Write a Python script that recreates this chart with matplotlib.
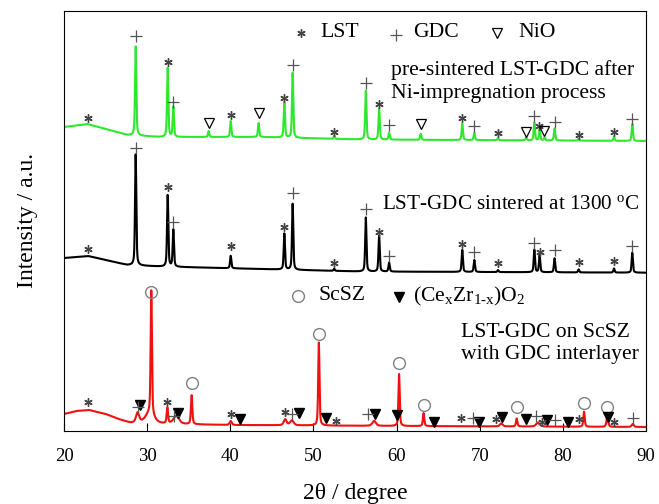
import numpy as np
import matplotlib.pyplot as plt

plt.rcParams['font.family'] = ['Liberation Serif', 'DejaVu Serif']
plt.rcParams['mathtext.fontset'] = 'custom'
plt.rcParams['mathtext.rm'] = 'Liberation Serif'
plt.rcParams['mathtext.it'] = 'Liberation Serif:italic'

# ---- pattern data (2theta in degrees, intensity in a.u. incl. stacking offset) ----
# background knots
bg_green_x = [20.0, 22.8, 25.5, 27.6, 31.5, 43.6, 55.6, 90.0]
bg_green_y = [304, 307, 301, 296, 294, 294, 291.5, 290]
bg_black_x = [20.0, 22.9, 27.6, 31.5, 55.6, 90.0]
bg_black_y = [173, 175, 166, 164.5, 159.5, 158.3]
bg_red_x = [20.0, 21.5, 23.0, 25.0, 26.5, 28.0, 32.0, 40.0, 60.0, 90.0]
bg_red_y = [17, 20, 21, 17, 12, 8, 7, 6, 5, 4]

# peaks: position, height above background
pk_green_pos = [28.62, 32.47, 33.15, 37.4, 40.05, 43.4, 46.5, 47.5, 52.5, 56.3,
                57.9, 59.1, 62.9, 67.9, 69.35, 72.2, 75.6, 76.57, 77.2, 77.8,
                79.0, 81.9, 86.15, 88.35]
pk_green_h = [89, 69, 30, 6, 16, 14, 35, 65, 3, 49,
              31, 7, 6, 16.5, 7.5, 2, 3, 18, 10, 3,
              12, 2, 4, 17]

pk_black_pos = [28.62, 32.47, 33.15, 40.05, 46.5, 47.5, 52.5, 56.3, 57.9, 59.1,
                67.9, 69.35, 72.2, 76.57, 77.2, 79.0, 81.9, 86.15, 88.35]
pk_black_h = [111, 71.5, 37, 12.5, 36, 66, 2, 54, 36, 9,
              22, 12, 2, 22.5, 17, 14, 3, 4, 20]

pk_red_pos = [28.85, 30.5, 30.3, 32.43, 33.5, 35.35, 40.05, 46.6, 47.4, 50.65,
              57.3, 60.3, 63.25, 72.6, 74.45, 77.0, 82.55, 85.35, 88.4]
pk_red_h = [10, 124, 10, 15.7, 8, 29, 4, 6, 5, 83,
            5, 52, 13, 3, 8, 4, 15, 10, 3]
pk_red_w = [0.45, 0.18, 1.2, 0.2, 0.8, 0.2, 0.3, 0.4, 0.5, 0.18,
            0.5, 0.18, 0.2, 0.4, 0.2, 0.5, 0.2, 0.25, 0.3]

# phase markers (2theta, label height)
g_lst_x = [22.9, 32.47, 40.05, 46.5, 52.5, 57.9, 67.9, 72.2, 77.15, 81.9, 86.15]
g_lst_y = [313, 369, 316, 333, 299, 327, 313, 298, 305, 296, 299]
g_gdc_x = [28.62, 33.15, 47.5, 56.3, 59.1, 69.35, 76.57, 79.0, 88.35]
g_gdc_y = [395, 329, 366, 348, 306, 305, 315, 309, 312]
g_nio_x = [37.4, 43.4, 62.9, 75.57, 77.76]
g_nio_y = [308, 318, 307, 299, 300]

k_lst_x = [22.9, 32.47, 40.05, 46.5, 52.5, 57.9, 67.9, 72.2, 77.2, 81.9, 86.15]
k_lst_y = [181.7, 244.3, 185, 204.3, 167.7, 199.3, 187, 167.7, 178.7, 169.3, 170]
k_gdc_x = [28.62, 33.15, 47.5, 56.3, 59.1, 69.35, 76.57, 79.0, 88.35]
k_gdc_y = [283, 209.3, 237.7, 221.7, 175.3, 178.7, 188.3, 181, 185]

r_scsz_x = [30.5, 35.35, 50.65, 60.3, 63.3, 74.45, 82.58, 85.27]
r_scsz_y = [139.3, 48.3, 96.7, 68.3, 26, 24.3, 28.3, 24.3]
r_cz_x = [29.14, 33.75, 41.2, 48.3, 51.5, 57.4, 60.0, 64.5, 69.95, 72.65,
          75.6, 78.06, 80.65, 85.47]
r_cz_y = [26, 17.7, 11.7, 17.7, 13.3, 17, 16, 9.3, 9.3, 14.3,
          12, 11, 9.3, 14.3]
r_lst_x = [22.9, 32.43, 40.05, 46.6, 52.7, 67.75, 72.0, 77.46, 81.94, 86.2]
r_lst_y = [29.3, 28.7, 16.7, 18.7, 10.3, 13.3, 12, 9.3, 12, 9.3]
r_gdc_x = [28.85, 33.2, 47.45, 56.6, 69.2, 76.8, 79.06, 88.4]
r_gdc_y = [23.7, 15.3, 17, 17, 13.3, 15.3, 11, 13.3]


def pattern(tt, bx, by, pos, h, w=None, eta=0.5):
    y = np.interp(tt, bx, by)
    if w is None:
        w = [0.18] * len(pos)
    for c, a, fw in zip(pos, h, w):
        d = ((tt - c) / fw) ** 2
        y = y + a * (eta / (1 + 4 * d) + (1 - eta) * np.exp(-4 * np.log(2) * d))
    return y


tt = np.arange(20, 90.001, 0.01)
y_green = pattern(tt, bg_green_x, bg_green_y, pk_green_pos, pk_green_h)
y_black = pattern(tt, bg_black_x, bg_black_y, pk_black_pos, pk_black_h)
y_red = pattern(tt, bg_red_x, bg_red_y, pk_red_pos, pk_red_h, pk_red_w)

fig = plt.figure(figsize=(6.59, 5.04), dpi=100)
ax = fig.add_axes([64 / 659, 73 / 504, 582 / 659, 420 / 504])

ax.plot(tt, y_green, color='#2ee82e', lw=1.5)
ax.plot(tt, y_black, color='black', lw=1.5)
ax.plot(tt, y_red, color='#f01010', lw=1.5)

asterisk = (6, 2, 0)
star_kw = dict(ls='none', marker=asterisk, ms=6, color='#444444', mew=1.0)
plus_kw = dict(ls='none', marker='+', ms=8, color='#555555', mew=0.9)
nio_kw = dict(ls='none', marker='v', ms=7, mfc='none', mec='black', mew=0.9)
scsz_kw = dict(ls='none', marker='o', ms=8.5, mfc='none', mec='#808080', mew=1.0)
cz_kw = dict(ls='none', marker='v', ms=6.5, color='black')

ax.plot(g_lst_x, g_lst_y, **star_kw)
ax.plot(g_gdc_x, g_gdc_y, **plus_kw)
ax.plot(g_nio_x, g_nio_y, **nio_kw)
ax.plot(k_lst_x, k_lst_y, **star_kw)
ax.plot(k_gdc_x, k_gdc_y, **plus_kw)
ax.plot(r_scsz_x, r_scsz_y, **scsz_kw)
ax.plot(r_cz_x, r_cz_y, **cz_kw)
ax.plot(r_lst_x, r_lst_y, **star_kw)
ax.plot(r_gdc_x, r_gdc_y, **plus_kw)

# phase keys
fs = 15.6
ax.plot([48.47], [398], **star_kw)
ax.text(50.8, 398, 'LST', fontsize=fs, va='center')
ax.plot([59.93], [396], **plus_kw)
ax.text(61.98, 398, 'GDC', fontsize=fs, va='center')
ax.plot([72.05], [398], **nio_kw)
ax.text(74.6, 398, 'NiO', fontsize=fs, va='center')
ax.plot([48.18], [135], **scsz_kw)
ax.text(50.6, 135, 'ScSZ', fontsize=fs, va='center')
ax.plot([60.33], [134.3], **cz_kw)
ax.text(62.0, 135, r'(Ce$_\mathrm{x}$Zr$_\mathrm{1\text{-}x}$)O$_\mathrm{2}$',
        fontsize=fs, va='center')

# sample captions
ax.text(59.3, 349.5, 'pre-sintered LST-GDC after\nNi-impregnation process',
        fontsize=fs, va='center', linespacing=1.32)
ax.text(58.2, 226, r'LST-GDC sintered at 1300 $^\mathrm{o}$C', fontsize=15.2, va='center')
ax.text(67.75, 87.7, 'LST-GDC on ScSZ\nwith GDC interlayer',
        fontsize=fs, va='center', linespacing=1.25)

ax.set_xlim(20, 90)
ax.set_ylim(0, 420)
ax.set_xticks(np.arange(20, 91, 10))
ax.set_yticks([])
ax.tick_params(axis='x', direction='in', length=6, labelsize=13.5, pad=12)
ax.set_xlabel('2θ / degree', fontsize=17)
ax.set_ylabel('Intensity / a.u.', fontsize=17)
ax.xaxis.set_label_coords(0.5, -0.125)
ax.yaxis.set_label_coords(-0.045, 0.5)

fig.savefig('out.png', dpi=100)
